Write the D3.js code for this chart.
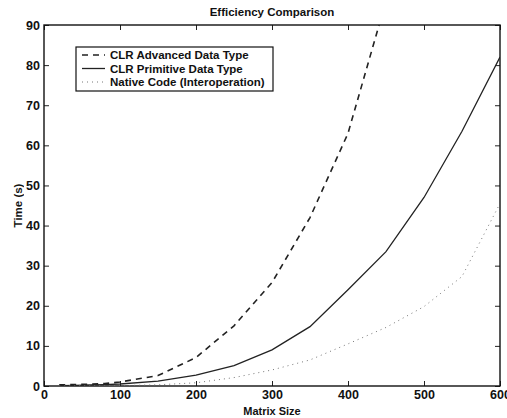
<!DOCTYPE html>
<html>
<head>
<meta charset="utf-8">
<script src="https://cdn.jsdelivr.net/npm/d3@7"></script>
<style>
  body { margin: 0; background: #fff; }
  text { font-family: "Liberation Sans", Arial, sans-serif; font-weight: bold; fill: #111; }
</style>
</head>
<body>
<div class="chart"></div>
<script>
// data
var sizes = [20, 40, 60, 80, 100, 150, 200, 250, 300, 350, 400, 450, 500, 550, 600];
var advanced = [0.3, 0.35, 0.45, 0.6, 1.0, 2.6, 7.1, 15, 25.8, 42, 63, 96, null, null, null];
var primitive = [0.1, 0.15, 0.25, 0.35, 0.5, 1.2, 2.7, 5.1, 9, 14.8, 24, 33.5, 47, 63.5, 82];
var native = [0.02, 0.03, 0.05, 0.07, 0.1, 0.3, 0.8, 2.1, 4, 6.5, 10.5, 14.6, 19.8, 27.3, 45.5];
var xTicks = [0, 100, 200, 300, 400, 500, 600];
var yTicks = [0, 10, 20, 30, 40, 50, 60, 70, 80, 90];
var seriesNames = ['CLR Advanced Data Type', 'CLR Primitive Data Type', 'Native Code (Interoperation)'];

var W = 507, H = 418;
var margin = {top: 25, right: 7, bottom: 32, left: 44};
var width = W - margin.left - margin.right;
var height = H - margin.top - margin.bottom;

var svg = d3.select('.chart').append('svg')
  .attr('width', W).attr('height', H);

var g = svg.append('g')
  .attr('transform', 'translate(' + margin.left + ',' + margin.top + ')');

var x = d3.scaleLinear().domain([0, 600]).range([0, width]);
var y = d3.scaleLinear().domain([0, 90]).range([height, 0]);

// clip for lines that leave the top
g.append('clipPath').attr('id', 'clip')
  .append('rect').attr('width', width).attr('height', height);

// axes, matlab style ticks pointing in
var tickLen = 5;
g.append('g').attr('transform', 'translate(0,' + height + ')')
  .call(d3.axisBottom(x).tickValues(xTicks).tickSize(-tickLen).tickPadding(4))
  .call(function(a){ a.select('.domain').remove(); });
g.append('g')
  .call(d3.axisTop(x).tickValues(xTicks).tickSize(-tickLen).tickFormat(''))
  .call(function(a){ a.select('.domain').remove(); });
g.append('g')
  .call(d3.axisLeft(y).tickValues(yTicks).tickSize(-tickLen).tickPadding(4))
  .call(function(a){ a.select('.domain').remove(); });
g.append('g').attr('transform', 'translate(' + width + ',0)')
  .call(d3.axisRight(y).tickValues(yTicks).tickSize(-tickLen).tickFormat(''))
  .call(function(a){ a.select('.domain').remove(); });

g.selectAll('.tick text').style('font-size', '12.5px').style('font-family', '"Liberation Sans", Arial, sans-serif').style('font-weight', 'bold').attr('fill', '#111');
g.selectAll('.tick line').attr('stroke', '#222');

g.append('rect')
  .attr('width', width).attr('height', height)
  .attr('fill', 'none').attr('stroke', '#111').attr('stroke-width', 1.4);

// lines
var line = d3.line()
  .defined(function(d){ return d[1] != null; })
  .x(function(d){ return x(d[0]); })
  .y(function(d){ return y(d[1]); });

function pairs(vals) { return sizes.map(function(s, i){ return [s, vals[i]]; }); }

var styles = [
  {dash: '6,5', w: 1.6, c: '#222'},
  {dash: null, w: 1.3, c: '#222'},
  {dash: '1,4', w: 1, c: '#777'}
];

[advanced, primitive, native].forEach(function(vals, i) {
  g.append('path')
    .datum(pairs(vals))
    .attr('clip-path', 'url(#clip)')
    .attr('fill', 'none')
    .attr('stroke', styles[i].c)
    .attr('stroke-width', styles[i].w)
    .attr('stroke-dasharray', styles[i].dash)
    .attr('d', line);
});

// legend
var lg = svg.append('g').attr('transform', 'translate(76,47)');
lg.append('rect').attr('width', 197).attr('height', 44)
  .attr('fill', '#fff').attr('stroke', '#111').attr('stroke-width', 1.2);
seriesNames.forEach(function(name, i) {
  var yy = 8 + i * 13.5;
  lg.append('line').attr('x1', 6).attr('x2', 29).attr('y1', yy).attr('y2', yy)
    .attr('stroke', styles[i].c).attr('stroke-width', styles[i].w)
    .attr('stroke-dasharray', styles[i].dash);
  lg.append('text').attr('x', 34).attr('y', yy + 4)
    .style('font-size', '11.5px').text(name);
});

// titles
svg.append('text').attr('x', margin.left + width / 2).attr('y', 16)
  .attr('text-anchor', 'middle').style('font-size', '11.5px').text('Efficiency Comparison');
svg.append('text').attr('x', margin.left + width / 2).attr('y', 415)
  .attr('text-anchor', 'middle').style('font-size', '11px').text('Matrix Size');
svg.append('text').attr('transform', 'translate(22,' + (margin.top + height / 2) + ') rotate(-90)')
  .attr('text-anchor', 'middle').style('opacity', 0.99).style('font-size', '11.5px').text('Time (s)');
</script>
</body>
</html>
